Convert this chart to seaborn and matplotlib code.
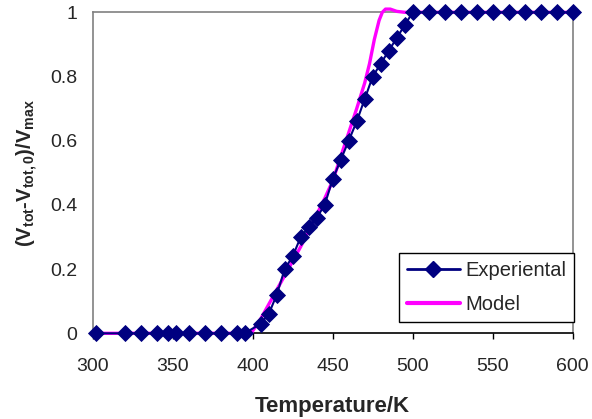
import matplotlib
matplotlib.use("Agg")
import matplotlib.pyplot as plt
import seaborn as sns
import pandas as pd
from matplotlib.lines import Line2D

# ---- data ----
exp_T = [302, 320, 330, 340, 347, 352, 360, 370, 380, 390, 395,
         405, 410, 415, 420, 425, 430, 435, 440, 445, 450, 455, 460,
         465, 470, 475, 480, 485, 490, 495, 500,
         510, 520, 530, 540, 550, 560, 570, 580, 590, 600]
exp_v = [0, 0, 0, 0, 0, 0, 0, 0, 0, 0, 0,
         0.03, 0.06, 0.12, 0.20, 0.24, 0.30, 0.33, 0.36, 0.40, 0.48, 0.54, 0.60,
         0.66, 0.73, 0.80, 0.84, 0.88, 0.92, 0.96, 1.0,
         1, 1, 1, 1, 1, 1, 1, 1, 1, 1]

model_T = [300, 399, 405, 410, 415, 420, 425, 430, 435, 440, 445, 450, 455,
           460, 465, 470, 473, 476, 479, 481, 483, 486, 490, 495, 600]
model_v = [0, 0, 0.045, 0.09, 0.135, 0.18, 0.225, 0.27, 0.32, 0.37, 0.42, 0.475, 0.55,
           0.625, 0.70, 0.78, 0.84, 0.915, 0.975, 1.0, 1.01, 1.01, 1.003, 1.0, 1.0]

x_ticks = [300, 350, 400, 450, 500, 550, 600]
y_ticks = [0, 0.2, 0.4, 0.6, 0.8, 1]
y_tick_labels = ["0", "0.2", "0.4", "0.6", "0.8", "1"]

series_names = ["Experiental", "Model"]
NAVY = "#000080"
MAGENTA = "#FF00FF"

sns.set_style("white")
plt.rcParams["font.family"] = ["Liberation Sans", "DejaVu Sans"]
plt.rcParams["mathtext.fontset"] = "custom"
plt.rcParams["mathtext.rm"] = "Liberation Sans"
plt.rcParams["mathtext.bf"] = "Liberation Sans:bold"
plt.rcParams["mathtext.it"] = "Liberation Sans:italic"

fig = plt.figure(figsize=(5.92, 4.19), dpi=100)
ax = fig.add_axes([0.1566, 0.2045, 0.9674 - 0.1566, 0.9706 - 0.2045])

df_exp = pd.DataFrame({"T": exp_T, "v": exp_v})
df_mod = pd.DataFrame({"T": model_T, "v": model_v})

sns.lineplot(data=df_mod, x="T", y="v", ax=ax, color=MAGENTA, lw=2.4,
             clip_on=False, zorder=3, estimator=None, sort=False)
sns.lineplot(data=df_exp, x="T", y="v", ax=ax, color=NAVY, lw=1.5,
             marker="D", markersize=8.3, markeredgewidth=0.6,
             markeredgecolor=NAVY, markerfacecolor=NAVY,
             clip_on=False, zorder=4, estimator=None, sort=False)

ax.set_xlim(300, 600)
ax.set_ylim(0, 1)
ax.set_xticks(x_ticks)
ax.set_xticklabels([str(t) for t in x_ticks])
ax.set_yticks(y_ticks)
ax.set_yticklabels(y_tick_labels)

ax.tick_params(axis="x", direction="out", length=4.5, width=1, color="black",
               pad=13.5, labelsize=14, bottom=True)
ax.tick_params(axis="y", length=0, pad=11, labelsize=14, left=True)

for s in ["top", "right", "left"]:
    ax.spines[s].set_color("#808080")
    ax.spines[s].set_linewidth(1.2)
ax.spines["bottom"].set_color("black")
ax.spines["bottom"].set_linewidth(1.2)

ax.set_xlabel("Temperature/K", fontsize=16, fontweight="bold")
ax.xaxis.set_label_coords(0.5, -0.195)
ax.set_ylabel(r"$\mathbf{(V_{tot}}$‐$\mathbf{V_{tot,0})/V_{max}}$", fontsize=14.5,
              fontweight="bold")
ax.yaxis.set_label_coords(-0.109, 0.5)

handles = [Line2D([], [], color=NAVY, lw=2.0, marker="D", markersize=8,
                  markerfacecolor=NAVY, markeredgecolor=NAVY),
           Line2D([], [], color=MAGENTA, lw=3.0)]
leg = ax.legend(handles, series_names, loc="lower right",
                bbox_to_anchor=(1.003, 0.036), borderaxespad=0,
                fontsize=14.5, frameon=True, fancybox=False,
                edgecolor="black", framealpha=1, handlelength=2.65,
                handletextpad=0.25, borderpad=0.4, labelspacing=0.75)
leg.get_frame().set_linewidth(1.0)

fig.savefig("out.png", dpi=100)
